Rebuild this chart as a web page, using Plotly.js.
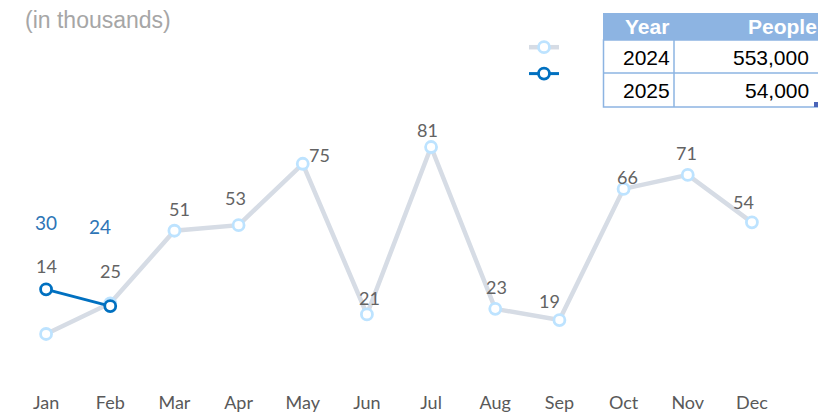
<!DOCTYPE html>
<html><head><meta charset="utf-8">
<script src="https://cdn.plot.ly/plotly-3.0.1.min.js"></script>
<style>html,body{margin:0;padding:0;background:#fff}#chart{width:818px;height:412px}</style>
</head><body><div id="chart"></div>
<script>
// ---- data ----
const months = ['Jan','Feb','Mar','Apr','May','Jun','Jul','Aug','Sep','Oct','Nov','Dec'];
const values2024 = [14,25,51,53,75,21,81,23,19,66,71,54];
const months2025 = ['Jan','Feb'];
const values2025 = [30,24];
const tableHeader = ['Year','People'];
const tableYears = ['2024','2025'];
const tablePeople = ['553,000','54,000'];
const unitNote = '(in thousands)';

// ---- style: label offsets (pixels) ----
const off2024 = [[0,68],[0,32],[5,22],[-3,27],[17,9],[3,16],[-4,17],[1,22],[-10,19],[4,12],[-1,22],[-8,20]];
const off2025 = [[0,67],[-10,80]];

const W=818,H=412,M={l:14,r:34,t:94,b:25};
const PW=W-M.l-M.r, PH=H-M.t-M.b;
const px=x=>(x-M.l)/PW, py=y=>1-(y-M.t)/PH;

const traces=[
 {x:months,y:values2024,type:'scatter',mode:'lines+markers',name:' ',
  line:{color:'#D6DCE5',width:4.5},
  marker:{size:11,color:'#FFFFFF',line:{color:'#BDE3FF',width:2.8}},hoverinfo:'skip'},
 {x:months2025,y:values2025,type:'scatter',mode:'lines+markers',name:' ',
  line:{color:'#0070C0',width:3},
  marker:{size:11,color:'#FFFFFF',line:{color:'#0070C0',width:2.8}},hoverinfo:'skip'}
];

const ann=[];
values2024.forEach((v,i)=>ann.push({x:months[i],y:v,xref:'x',yref:'y',text:String(v),showarrow:false,
  xshift:off2024[i][0],yshift:off2024[i][1],font:{family:'Lato, sans-serif',size:18,color:'#636363'}}));
values2025.forEach((v,i)=>ann.push({x:months2025[i],y:v,xref:'x',yref:'y',text:String(v),showarrow:false,
  xshift:off2025[i][0],yshift:off2025[i][1],font:{family:'Lato, sans-serif',size:19,color:'#2E75B6'}}));
ann.push({x:px(23),y:py(20),xref:'paper',yref:'paper',xanchor:'left',yanchor:'middle',text:unitNote,showarrow:false,
  font:{family:'Liberation Sans, Arial, sans-serif',size:23,color:'#A6A6A6'}});

// table
const tf={family:'Liberation Sans, Arial, sans-serif',size:21};
ann.push({x:px(671),y:py(27),xref:'paper',yref:'paper',xanchor:'right',yanchor:'middle',text:'<b>'+tableHeader[0]+'</b>',showarrow:false,font:Object.assign({},tf,{color:'#FFFFFF'})});
ann.push({x:px(819),y:py(27),xref:'paper',yref:'paper',xanchor:'right',yanchor:'middle',text:'<b>'+tableHeader[1]+'</b>',showarrow:false,font:Object.assign({},tf,{color:'#FFFFFF'})});
const rowY=[57,90];
tableYears.forEach((t,i)=>{
  ann.push({x:px(672),y:py(rowY[i]),xref:'paper',yref:'paper',xanchor:'right',yanchor:'middle',text:t,showarrow:false,font:Object.assign({},tf,{color:'#000000'})});
  ann.push({x:px(811),y:py(rowY[i]),xref:'paper',yref:'paper',xanchor:'right',yanchor:'middle',text:tablePeople[i],showarrow:false,font:Object.assign({},tf,{color:'#000000'})});
});
const bc='#8DB4E2';
const shapes=[
 {type:'rect',xref:'paper',yref:'paper',x0:px(603),x1:px(840),y0:py(40),y1:py(13),fillcolor:bc,line:{width:0},layer:'below'},
 {type:'rect',xref:'paper',yref:'paper',x0:px(603.5),x1:px(840),y0:py(107),y1:py(40),fillcolor:'rgba(0,0,0,0)',line:{color:bc,width:1.5},layer:'below'},
 {type:'line',xref:'paper',yref:'paper',x0:px(603),x1:px(840),y0:py(73),y1:py(73),line:{color:bc,width:1.5}},
 {type:'line',xref:'paper',yref:'paper',x0:px(674),x1:px(674),y0:py(107),y1:py(40),line:{color:bc,width:1.5}},
 {type:'rect',xref:'paper',yref:'paper',x0:px(814),x1:px(818),y0:py(107),y1:py(102),fillcolor:'#4A64B8',line:{width:0}}
];

const layout={width:W,height:H,margin:M,paper_bgcolor:'#fff',plot_bgcolor:'#fff',
 showlegend:true,
 legend:{x:px(524),y:py(29),xanchor:'left',yanchor:'top',bgcolor:'rgba(0,0,0,0)',font:{size:18},tracegroupgap:0,itemwidth:30},
 xaxis:{type:'category',range:[-0.5,11.5],showgrid:false,zeroline:false,showline:false,ticks:'',ticklabelstandoff:3,
  tickfont:{family:'Lato, sans-serif',size:18,color:'#595959'},fixedrange:true},
 yaxis:{range:[-5,100],visible:false,fixedrange:true},
 annotations:ann,shapes:shapes};
Plotly.newPlot('chart',traces,layout,{displayModeBar:false,staticPlot:true});
</script></body></html>
